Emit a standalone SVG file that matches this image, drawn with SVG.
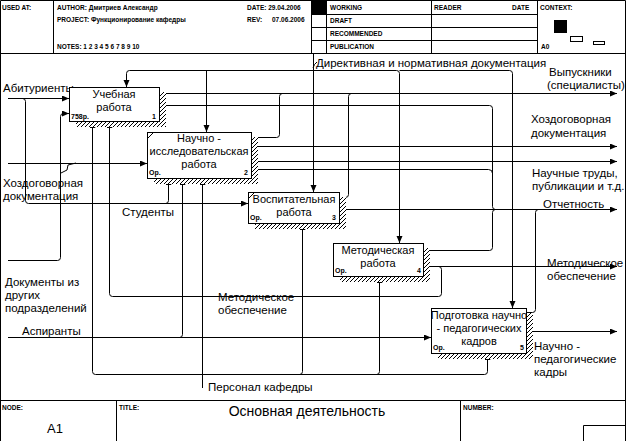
<svg xmlns="http://www.w3.org/2000/svg" width="631" height="441" viewBox="0 0 631 441">
<style>
.ln{fill:none;stroke:#000;stroke-width:1}
.ar{fill:none;stroke:#000;stroke-width:1;marker-end:url(#ah)}
.box{fill:#fff;stroke:#000;stroke-width:1}
.sh{fill:url(#hatch)}
.t{font-family:"Liberation Sans",Arial,sans-serif;font-size:11.5px;fill:#000}
.tc{font-family:"Liberation Sans",Arial,sans-serif;font-size:11px;fill:#000;text-anchor:middle}
.h{font-family:"Liberation Sans",Arial,sans-serif;font-size:6.5px;font-weight:bold;fill:#000}
.s{font-family:"Liberation Sans",Arial,sans-serif;font-size:7px;font-weight:bold;fill:#000}
</style>
<defs>
<marker id="ah" markerUnits="userSpaceOnUse" markerWidth="8" markerHeight="7" refX="7" refY="3" orient="auto">
<path d="M0,0 L7,3 L0,6 z" fill="#000"/>
</marker>
<pattern id="hatch" width="4" height="4" patternUnits="userSpaceOnUse">
<rect width="4" height="4" fill="#fff"/>
<rect x="0" y="3" width="1" height="1" fill="#000"/>
<rect x="1" y="2" width="1" height="1" fill="#000"/>
<rect x="2" y="1" width="1" height="1" fill="#000"/>
<rect x="3" y="0" width="1" height="1" fill="#000"/>
</pattern>
</defs>
<rect width="631" height="441" fill="#fff"/>
<g id="frame">
<path class="ln" d="M0.5,0.5 H625.5 V441 M0.5,0.5 V441 M0,53.5 H625.5 M0,400.5 H625.5"/>
<path class="ln" d="M53.5,0.5 V53.5 M311.5,0.5 V53.5 M326.5,0.5 V53.5 M431.5,0.5 V53.5 M537.5,0.5 V53.5"/>
<path class="ln" d="M311.5,14.5 H537.5 M311.5,27.5 H537.5 M311.5,40.5 H537.5"/>
<rect x="311.5" y="0.5" width="15" height="14" fill="#000"/>
<text class="h" x="2" y="10">USED AT:</text>
<text class="h" x="57" y="10">AUTHOR: Дмитриев Александр</text>
<text class="h" x="247" y="10">DATE: 29.04.2006</text>
<text class="h" x="57" y="22">PROJECT: Функционирование кафедры</text>
<text class="h" x="247" y="22">REV:</text>
<text class="h" x="272" y="22">07.06.2006</text>
<text class="h" x="57" y="49">NOTES: 1 2 3 4 5 6 7 8 9 10</text>
<text class="h" x="330" y="10">WORKING</text>
<text class="h" x="330" y="23">DRAFT</text>
<text class="h" x="330" y="36">RECOMMENDED</text>
<text class="h" x="330" y="49">PUBLICATION</text>
<text class="h" x="434" y="10">READER</text>
<text class="h" x="512" y="10">DATE</text>
<text class="h" x="540" y="10">CONTEXT:</text>
<rect x="554" y="20" width="13" height="13" fill="#000"/>
<rect x="570.5" y="36.5" width="12" height="5" class="ln"/>
<rect x="593.5" y="41.5" width="11" height="3" class="ln"/>
<text class="h" x="541" y="49">A0</text>
<path class="ln" d="M116.5,400.5 V441 M460.5,400.5 V441 M583.5,441 V425.5 H625.5"/>
<text class="h" x="2" y="410">NODE:</text>
<text class="h" x="119" y="410">TITLE:</text>
<text class="h" x="463" y="410">NUMBER:</text>
<text x="55" y="433" style="font-family:'Liberation Sans',Arial,sans-serif;font-size:13px;text-anchor:middle">A1</text>
<text x="307" y="416" style="font-family:'Liberation Sans',Arial,sans-serif;font-size:14px;text-anchor:middle">Основная деятельность</text>
</g>
<g id="connectors">
<path class="ar" d="M313.5,54 V192"/>
<path class="ar" d="M313.5,70.5 H129.5 Q126.5,70.5 126.5,73.5 V87"/>
<path class="ar" d="M206.5,70.5 V132"/>
<path class="ar" d="M313.5,70.5 H396.5 Q399.5,70.5 399.5,73.5 V243"/>
<path class="ar" d="M399.5,70.5 H509.5 Q512.5,70.5 512.5,73.5 V308"/>
<path class="ln" d="M313,68 Q314,64 317,62"/>
<path class="ar" d="M159,93.5 H617"/>
<path class="ln" d="M251,137.5 H276.5 Q279.5,137.5 279.5,134.5 V96.5 Q279.5,93.5 282.5,93.5"/>
<path class="ln" d="M339,197.5 H345.5 Q348.5,197.5 348.5,194.5 V96.5 Q348.5,93.5 351.5,93.5"/>
<path class="ln" d="M159,105.5 H489.5 Q492.5,105.5 492.5,108.5 V206.5 Q492.5,209.5 495.5,209.5"/>
<path class="ln" d="M251,169.5 H488.5 Q492.5,169.5 492.5,173.5"/>
<path class="ln" d="M423,250.5 H489.5 Q492.5,250.5 492.5,247.5 V212.5 Q492.5,209.5 495.5,209.5"/>
<path class="ar" d="M251,146.5 H617"/>
<path class="ar" d="M251,161.5 H617"/>
<path class="ar" d="M339,209.5 H617"/>
<path class="ln" d="M526,312.5 H532.5 Q535.5,312.5 535.5,309.5 V212.5 Q535.5,209.5 538.5,209.5"/>
<path class="ar" d="M423,266.5 H617"/>
<path class="ar" d="M438.5,266.5 Q441.5,266.5 441.5,269.5 V293.5 Q441.5,296.5 438.5,296.5 H112.5 Q109.5,296.5 109.5,293.5 V121"/>
<path class="ar" d="M526,331.5 H617"/>
<path class="ar" d="M8,98.5 H69"/>
<path class="ar" d="M22.5,98.5 Q25.5,98.5 25.5,101.5 V200.5 Q25.5,203.5 28.5,203.5 H248"/>
<path class="ar" d="M165.5,203.5 Q168.5,203.5 168.5,200.5 V178"/>
<path class="ar" d="M8,163.5 H147"/>
<path class="ln" d="M76,163 L68,165 L67,170 L61,173"/>
<path class="ar" d="M8,260.5 H57.5 Q60.5,260.5 60.5,257.5 V116.5 Q60.5,113.5 63.5,113.5 H69"/>
<path class="ar" d="M8,337.5 H431"/>
<path class="ar" d="M179.5,337.5 Q182.5,337.5 182.5,334.5 V178"/>
<path class="ar" d="M202.5,388 V178"/>
<path class="ar" d="M202.5,374.5 H95.5 Q92.5,374.5 92.5,371.5 V121"/>
<path class="ar" d="M202.5,374.5 H484.5 Q487.5,374.5 487.5,371.5 V353"/>
<path class="ar" d="M299.5,374.5 Q302.5,374.5 302.5,371.5 V223"/>
<path class="ar" d="M376.5,374.5 Q379.5,374.5 379.5,371.5 V276"/>
</g>
<g id="labels">
<text class="t" x="316" y="67">Директивная и нормативная документация</text>
<text class="t" x="3" y="92">Абитуриенты</text>
<text class="t" x="3" y="187">Хоздоговорная</text>
<text class="t" x="3" y="200">документация</text>
<text class="t" x="122" y="216">Студенты</text>
<text class="t" x="5" y="286">Документы из</text>
<text class="t" x="5" y="299">других</text>
<text class="t" x="5" y="312">подразделений</text>
<text class="t" x="22" y="335">Аспиранты</text>
<text class="t" x="218" y="301">Методическое</text>
<text class="t" x="218" y="314">обеспечение</text>
<text class="t" x="208" y="391">Персонал кафедры</text>
<text class="t" x="549" y="76">Выпускники</text>
<text class="t" x="547" y="89">(специалисты)</text>
<text class="t" x="531" y="123">Хоздоговорная</text>
<text class="t" x="531" y="137">документация</text>
<text class="t" x="532" y="177">Научные труды,</text>
<text class="t" x="532" y="190">публикации и т.д.</text>
<text class="t" x="543" y="208">Отчетность</text>
<text class="t" x="547" y="267">Методическое</text>
<text class="t" x="547" y="280">обеспечение</text>
<text class="t" x="534" y="350">Научно -</text>
<text class="t" x="534" y="363">педагогические</text>
<text class="t" x="534" y="376">кадры</text>
</g>
<g id="node1">
<rect class="sh" x="76" y="92" width="90" height="35"/>
<rect class="box" x="69.5" y="87.5" width="90" height="34"/>
<text class="tc" x="114" y="98">Учебная</text>
<text class="tc" x="114" y="111">работа</text>
<text class="s" x="71" y="119">758р.</text>
<text class="s" x="152" y="119">1</text>
</g>
<g id="node2">
<rect class="sh" x="154" y="137" width="104" height="47"/>
<rect class="box" x="147.5" y="132.5" width="104" height="46"/>
<path class="ln" d="M148,138 L153,133"/>
<text class="tc" x="199" y="142">Научно -</text>
<text class="tc" x="199" y="155">исследовательская</text>
<text class="tc" x="199" y="168">работа</text>
<text class="s" x="149" y="175">Ор.</text>
<text class="s" x="244" y="175">2</text>
</g>
<g id="node3">
<rect class="sh" x="255" y="197" width="91" height="32"/>
<rect class="box" x="248.5" y="192.5" width="91" height="31"/>
<path class="ln" d="M249,198 L254,193"/>
<text class="tc" x="294" y="203">Воспитательная</text>
<text class="tc" x="294" y="216">работа</text>
<text class="s" x="250" y="220">Ор.</text>
<text class="s" x="332" y="220">3</text>
</g>
<g id="node4">
<rect class="sh" x="340" y="248" width="90" height="34"/>
<rect class="box" x="333.5" y="243.5" width="90" height="33"/>
<text class="tc" x="378" y="254">Методическая</text>
<text class="tc" x="378" y="267">работа</text>
<text class="s" x="335" y="273">Ор.</text>
<text class="s" x="417" y="273">4</text>
</g>
<g id="node5">
<rect class="sh" x="438" y="313" width="95" height="46"/>
<rect class="box" x="431.5" y="308.5" width="95" height="45"/>
<text class="tc" x="479" y="319">Подготовка научно</text>
<text class="tc" x="479" y="332">- педагогических</text>
<text class="tc" x="479" y="345">кадров</text>
<text class="s" x="433" y="350">Ор.</text>
<text class="s" x="520" y="350">5</text>
</g>
</svg>
